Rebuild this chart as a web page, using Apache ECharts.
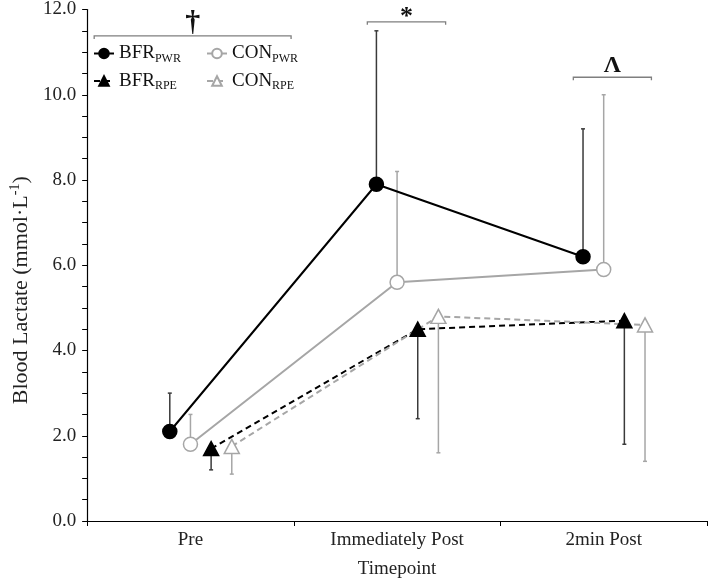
<!DOCTYPE html>
<html><head><meta charset="utf-8">
<script src="https://cdn.jsdelivr.net/npm/echarts@6/dist/echarts.min.js"></script>
<style>html,body{margin:0;padding:0;background:#fff}#c{width:709px;height:584px}</style>
</head><body><div id="c"></div>
<script>
const categories = ['Pre', 'Immediately Post', '2min Post'];
const seriesNames = ['BFR_PWR', 'CON_PWR', 'BFR_RPE', 'CON_RPE'];
const bfrPwr = [2.1, 7.9, 6.2];
const conPwr = [1.8, 5.6, 5.9];
const bfrRpe = [1.7, 4.5, 4.7];
const conRpe = [1.75, 4.8, 4.6];
// error bar ends (PWR upward, RPE downward)
const bfrPwrErr = [3.0, 11.5, 9.2];
const conPwrErr = [2.5, 8.2, 10.0];
const bfrRpeErr = [1.2, 2.4, 1.8];
const conRpeErr = [1.1, 1.6, 1.4];
// significance annotations
const annLabels = ['\u2020', '*', '\u039B'];
const annFrom = [0.034, 1.356, 2.353];
const annTo = [0.987, 1.735, 2.731];
const annLevel = [11.38, 11.71, 10.41];

const FONT = '"Liberation Serif", "DejaVu Serif", serif';
const BLACK = '#000000';
const GREY = '#a6a6a6';
const offsets = [-0.1, 0, 0.1, 0.2];
const xpos = (s) => categories.map((c, i) => i + 0.5 + offsets[s]);

function lineSeries(s, vals, color, dashed, symbol, filled) {
  const xs = xpos(s);
  return {
    name: seriesNames[s], type: 'line', xAxisIndex: 1, yAxisIndex: 0,
    data: vals.map((v, i) => [xs[i], v]),
    symbol: symbol, symbolSize: symbol === 'circle' ? 14 : [15, 14],
    lineStyle: { color: color, width: 2, type: dashed ? [6, 4] : 'solid' },
    itemStyle: { color: filled ? color : '#ffffff', borderColor: color, borderWidth: 1.5 },
    z: 5, silent: true, animation: false
  };
}
function errSeries(s, vals, ends, color) {
  const xs = xpos(s);
  return {
    type: 'custom', xAxisIndex: 1, yAxisIndex: 0, silent: true, z: 2, animation: false,
    data: vals.map((v, i) => [xs[i], v, ends[i]]),
    encode: { x: 0, y: [1, 2] },
    renderItem: function (params, api) {
      const x = api.value(0);
      const p1 = api.coord([x, api.value(1)]);
      const p2 = api.coord([x, api.value(2)]);
      return { type: 'group', children: [
        { type: 'line', shape: { x1: p1[0], y1: p1[1], x2: p2[0], y2: p2[1] }, style: { stroke: color, lineWidth: 1.5 } },
        { type: 'line', shape: { x1: p2[0] - 2, y1: p2[1], x2: p2[0] + 2, y2: p2[1] }, style: { stroke: color, lineWidth: 1.5 } }
      ]};
    }
  };
}
const annSeries = {
  type: 'custom', xAxisIndex: 1, yAxisIndex: 0, silent: true, z: 3, animation: false,
  data: annFrom.map((v, i) => [v, annTo[i], annLevel[i]]),
  encode: { x: [0, 1], y: 2 },
  renderItem: function (params, api) {
    const a = api.coord([api.value(0), api.value(2)]);
    const b = api.coord([api.value(1), api.value(2)]);
    const lab = annLabels[params.dataIndex];
    const mid = (a[0] + b[0]) / 2;
    let fs = 24, dy = 0;
    if (lab === '*') { fs = 26; dy = 8; }
    if (lab === '\u2020') { fs = 30; dy = 2; }
    if (lab === '\u039B') { fs = 24; dy = 1; }
    return { type: 'group', children: [
      { type: 'polyline', shape: { points: [[a[0], a[1] + 3], [a[0], a[1]], [b[0], b[1]], [b[0], b[1] + 3]] },
        style: { stroke: '#7f7f7f', lineWidth: 1.3, fill: null } },
      { type: 'text', x: mid, y: a[1] + dy,
        style: { text: lab, fill: '#111', font: 'bold ' + fs + 'px ' + FONT, textAlign: 'center', textVerticalAlign: 'bottom' } }
    ]};
  }
};

const legendRich = {
  a: { fontFamily: FONT, fontSize: 19, color: '#111', lineHeight: 22 },
  s: { fontFamily: FONT, fontSize: 12, color: '#111', lineHeight: 13, verticalAlign: 'bottom' }
};
const legendFmt = (n) => { const p = n.split('_'); return '{a|' + p[0] + '}{s|' + p[1] + '}'; };

const chart = echarts.init(document.getElementById('c'), null, { renderer: 'canvas' });
chart.setOption({
  animation: false,
  backgroundColor: '#fff',
  grid: { left: 81, right: 2, top: 9.5, bottom: 61, containLabel: false },
  legend: [
    { data: ['BFR_PWR', 'BFR_RPE'], left: 88, top: 39, orient: 'vertical', itemWidth: 20, itemHeight: 12, itemGap: 7,
      formatter: legendFmt, textStyle: { rich: legendRich }, selectedMode: false },
    { data: ['CON_PWR', 'CON_RPE'], left: 201, top: 39, orient: 'vertical', itemWidth: 20, itemHeight: 12, itemGap: 7,
      formatter: legendFmt, textStyle: { rich: legendRich }, selectedMode: false }
  ],
  xAxis: [
    { type: 'category', data: categories, boundaryGap: true,
      axisLine: { lineStyle: { color: '#000', width: 1.2 } },
      axisTick: { show: true, length: 5, lineStyle: { color: '#000' } },
      axisLabel: { fontFamily: FONT, fontSize: 19, color: '#222', margin: 10 },
      name: 'Timepoint', nameLocation: 'middle', nameGap: 39,
      nameTextStyle: { fontFamily: FONT, fontSize: 19, color: '#222' } },
    { type: 'value', min: 0, max: 3, show: false }
  ],
  yAxis: [{
    type: 'value', min: 0, max: 12, interval: 2,
    axisLine: { show: true, lineStyle: { color: '#000', width: 1.2 } },
    axisTick: { show: true, length: 5, lineStyle: { color: '#000' } },
    minorTick: { show: true, splitNumber: 4, length: 5, lineStyle: { color: '#000' } },
    splitLine: { show: false },
    axisLabel: { fontFamily: FONT, fontSize: 19, color: '#222', margin: 11, formatter: (v) => v.toFixed(1) },
    name: '{a|Blood Lactate (mmol·L}{s|-1}{a|)}', nameLocation: 'middle', nameGap: 52,
    nameTextStyle: { padding: [0, 50, 0, 0], rich: {
      a: { fontFamily: FONT, fontSize: 22, color: '#222', lineHeight: 26 },
      s: { fontFamily: FONT, fontSize: 14, color: '#222', lineHeight: 26, verticalAlign: 'top' } } }
  }],
  series: [
    errSeries(0, bfrPwr, bfrPwrErr, '#3a3a3a'),
    errSeries(1, conPwr, conPwrErr, GREY),
    errSeries(2, bfrRpe, bfrRpeErr, '#3a3a3a'),
    errSeries(3, conRpe, conRpeErr, GREY),
    lineSeries(0, bfrPwr, BLACK, false, 'circle', true),
    lineSeries(1, conPwr, GREY, false, 'circle', false),
    lineSeries(2, bfrRpe, BLACK, true, 'triangle', true),
    lineSeries(3, conRpe, GREY, true, 'triangle', false),
    annSeries
  ]
});
</script>
</body></html>
